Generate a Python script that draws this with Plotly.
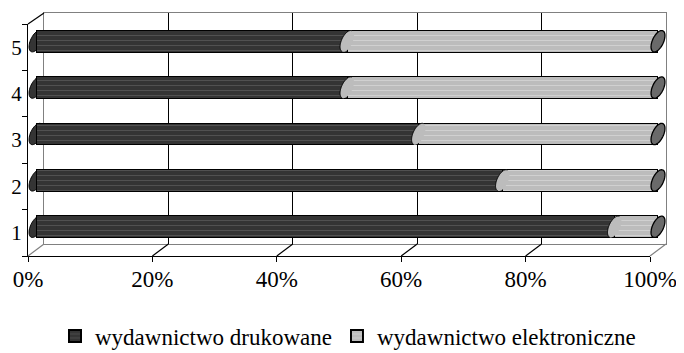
import math
import plotly.graph_objects as go

# ---- data ----
categories = ["1", "2", "3", "4", "5"]
printed = [93, 75, 61.5, 50, 50]          # wydawnictwo drukowane (%)
electronic = [7, 25, 38.5, 50, 50]        # wydawnictwo elektroniczne (%)
series_names = ["wydawnictwo drukowane", "wydawnictwo elektroniczne"]
x_tick_values = [0, 20, 40, 60, 80, 100]
x_tick_labels = ["0%", "20%", "40%", "60%", "80%", "100%"]

# ---- geometry (pixels in the 684x353 window) ----
W, H = 684, 353
OFF = 8  # page body margin
BACK = dict(x0=44, x1=666, yt=13, yb=244)
FRONT = dict(x0=28, x1=650, yt=24, yb=256)
MID = dict(x0=36, x1=658, yt=18, yb=250)
PAD = 3.0  # extra % on the bar axis so the end caps are not clipped

def fx(p):
    return (p - OFF) / W

def fy(p):
    return 1 - (p - OFF) / H

DARK = "#343434"
LIGHT = "#bcbcbc"
CAP = "#6a6a6a"
FONT = "Liberation Serif, Times New Roman, serif"

fig = go.Figure()

# empty traces so that the wall and the front-axis subplots are created
fig.add_trace(go.Scatter(x=[None], y=[None], xaxis="x", yaxis="y",
                         showlegend=False, hoverinfo="skip"))
fig.add_trace(go.Scatter(x=[None], y=[None], xaxis="x2", yaxis="y2",
                         showlegend=False, hoverinfo="skip"))

# bars (on the middle-depth subplot x3/y3)
fig.add_trace(go.Bar(
    y=categories, x=printed, orientation="h", name=series_names[0],
    xaxis="x3", yaxis="y3", width=0.47,
    marker=dict(color=DARK, line=dict(color="black", width=1),
                pattern=dict(shape="-", size=5, solidity=0.18,
                             fgcolor="#555555", bgcolor=DARK, fillmode="replace")),
    hoverinfo="skip"))
fig.add_trace(go.Bar(
    y=categories, x=electronic, orientation="h", name=series_names[1],
    xaxis="x3", yaxis="y3", width=0.47,
    marker=dict(color=LIGHT, line=dict(color="black", width=1),
                pattern=dict(shape="-", size=5, solidity=0.18,
                             fgcolor="#d2d2d2", bgcolor=LIGHT, fillmode="replace")),
    hoverinfo="skip"))

# ---- cylinder ends, computed from the data ----
px_per_pct = (MID["x1"] - MID["x0"]) / 100.0
px_per_cat = (MID["yb"] - MID["yt"]) / len(categories)
A, B, TH = 5.5, 11.5, math.radians(25)

def ellipse_pts(cx, cy, t0=0.0, t1=2 * math.pi, n=48):
    pts = []
    for k in range(n + 1):
        t = t0 + (t1 - t0) * k / n
        dx = A * math.cos(t) * math.cos(TH) + B * math.sin(t) * math.sin(TH)
        dy = -A * math.cos(t) * math.sin(TH) + B * math.sin(t) * math.cos(TH)
        pts.append((cx + dx / px_per_pct, cy + dy / px_per_cat))
    return pts

def path_of(pts, close=True):
    s = "M " + " L ".join(f"{x:.4f},{y:.4f}" for x, y in pts)
    return s + (" Z" if close else "")

shapes = []
for i, cat in enumerate(categories):
    # left end (back half visible)
    shapes.append(dict(type="path", xref="x3", yref="y3", layer="below",
                       path=path_of(ellipse_pts(0, i)),
                       fillcolor=DARK, line=dict(color="black", width=1)))
    # boundary between segments
    b = printed[i]
    shapes.append(dict(type="path", xref="x3", yref="y3", layer="above",
                       path=path_of(ellipse_pts(b, i)),
                       fillcolor=LIGHT, line=dict(width=0)))
    shapes.append(dict(type="path", xref="x3", yref="y3", layer="above",
                       path=path_of(ellipse_pts(b, i, math.pi / 2, 3 * math.pi / 2), close=False),
                       line=dict(color="black", width=1)))
    # right end cap
    total = printed[i] + electronic[i]
    shapes.append(dict(type="path", xref="x3", yref="y3", layer="above",
                       path=path_of(ellipse_pts(total, i)),
                       fillcolor=CAP, line=dict(color="black", width=1.3)))

# ---- floor / wall connectors ----
def back_x(v):
    return fx(BACK["x0"] + (BACK["x1"] - BACK["x0"]) * v / 100)

def front_x(v):
    return fx(FRONT["x0"] + (FRONT["x1"] - FRONT["x0"]) * v / 100)

for v in x_tick_values:
    col = "#808080" if v in (0, 100) else "black"
    shapes.append(dict(type="line", xref="paper", yref="paper", layer="above",
                       x0=front_x(v), y0=fy(FRONT["yb"]), x1=back_x(v), y1=fy(BACK["yb"]),
                       line=dict(color=col, width=1.2)))
shapes.append(dict(type="line", xref="paper", yref="paper", layer="above",
                   x0=fx(FRONT["x0"]), y0=fy(FRONT["yt"]), x1=fx(BACK["x0"]), y1=fy(BACK["yt"]),
                   line=dict(color="black", width=1.2)))

mid_x0 = MID["x0"] - PAD * px_per_pct
mid_x1 = MID["x1"] + PAD * px_per_pct

fig.update_layout(
    width=W, height=H,
    margin=dict(l=0, r=0, t=0, b=0, autoexpand=False),
    paper_bgcolor="white", plot_bgcolor="rgba(0,0,0,0)",
    barmode="stack", bargap=0.5,
    font=dict(family=FONT, size=23, color="black"),
    showlegend=True,
    legend=dict(orientation="h", x=fx(348), xanchor="center", y=fy(336), yanchor="middle",
                font=dict(family=FONT, size=23, color="black"),
                itemsizing="constant", traceorder="normal", bgcolor="rgba(0,0,0,0)"),
    # back wall
    xaxis=dict(domain=[fx(BACK["x0"]), fx(BACK["x1"])], range=[0, 100], anchor="y",
               tickvals=[20, 40, 60, 80], showticklabels=False, ticks="",
               showgrid=True, gridcolor="black", gridwidth=1.2,
               showline=True, linecolor="#808080", linewidth=1.2, mirror=True,
               zeroline=False, fixedrange=True, automargin=False),
    yaxis=dict(domain=[fy(BACK["yb"]), fy(BACK["yt"])], range=[0, 1], anchor="x",
               showticklabels=False, ticks="", showgrid=False,
               showline=True, linecolor="#808080", linewidth=1.2, mirror=True,
               zeroline=False, fixedrange=True, automargin=False),
    # front axes
    xaxis2=dict(domain=[fx(FRONT["x0"]), fx(FRONT["x1"])], range=[0, 100], anchor="y2",
                tickvals=x_tick_values, ticktext=x_tick_labels,
                ticks="outside", ticklen=5, tickcolor="black", tickwidth=1.2,
                ticklabelstandoff=-3,
                showgrid=False, showline=True, linecolor="black", linewidth=1.2,
                zeroline=False, tickfont=dict(family=FONT, size=23), fixedrange=True,
                automargin=False),
    yaxis2=dict(domain=[fy(FRONT["yb"]), fy(FRONT["yt"])], range=[0.5, 5.5], anchor="x2",
                tickvals=[1, 2, 3, 4, 5], ticktext=categories, ticks="",
                ticklabelstandoff=1,
                minor=dict(tickvals=[0.5, 1.5, 2.5, 3.5, 4.5, 5.5], ticks="outside",
                           ticklen=5, tickcolor="black", tickwidth=1.2, showgrid=False),
                showgrid=False, showline=True, linecolor="black", linewidth=1.2,
                zeroline=False, tickfont=dict(family=FONT, size=21), fixedrange=True,
                automargin=False),
    # bars
    xaxis3=dict(domain=[fx(mid_x0), fx(mid_x1)], range=[-PAD, 100 + PAD], anchor="y3",
                visible=False, fixedrange=True, automargin=False),
    yaxis3=dict(domain=[fy(MID["yb"]), fy(MID["yt"])], range=[-0.5, 4.5], anchor="x3",
                type="category", categoryorder="array", categoryarray=categories,
                visible=False, fixedrange=True, automargin=False),
    shapes=shapes,
)

fig.write_html("out.html")
